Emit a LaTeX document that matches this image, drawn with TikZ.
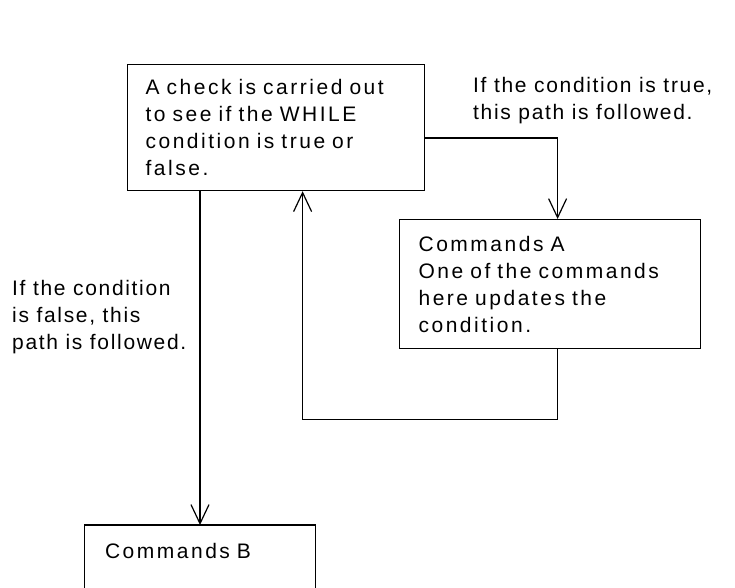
\documentclass[tikz,border=0pt]{standalone}
\usepackage{fontspec}
\setmainfont{Liberation Sans}[LetterSpace=12]
\usetikzlibrary{arrows.meta,calc}

\tikzset{
  flowbox/.style={draw, line width=1.2pt, rectangle, inner ysep=0pt,
    align=left, font=\fontsize{21}{27}\selectfont},
  note/.style={inner sep=0pt, align=left, anchor=west,
    font=\fontsize{21}{27}\selectfont\addfontfeature{LetterSpace=8}},
  flow/.style={line width=1.2pt,
    -{Straight Barb[length=19pt,width=18pt]}},
  plain/.style={line width=1.2pt}
}
% keep each printed line in one piece
\newcommand\oneline[1]{\mbox{#1}}

\begin{document}
\begin{tikzpicture}[x=1pt,y=1pt]
  \useasboundingbox (0,0) rectangle (735,-587);
  \clip (0,0) rectangle (735,-587);

  % condition test
  \node[flowbox, anchor=north west, minimum width=297pt, minimum height=126pt,
        inner xsep=18pt, text width=261pt] (check) at (127,-64)
    {\oneline{A check is carried out}\\\oneline{to see if the WHILE}\\
     \oneline{condition is true or}\\\oneline{false.}};

  % loop body
  \node[flowbox, anchor=north west, minimum width=301pt, minimum height=129pt,
        inner xsep=19pt, text width=263pt] (cmdA) at (399,-219)
    {\oneline{Commands A}\\\oneline{One of the commands}\\\oneline{here updates the}\\
     \oneline{condition.}};

  % statements after the loop (box runs off the bottom edge)
  \node[flowbox, draw=none, anchor=north, minimum width=230pt, minimum height=50pt,
        inner xsep=20pt, text width=190pt] (cmdB) at (200,-525)
    {\oneline{Commands B}};
  \draw[plain] ([yshift=-40pt]cmdB.south west) -- (cmdB.north west)
    -- (cmdB.north east) -- ([yshift=-40pt]cmdB.south east);

  % path labels
  \node[note] (truelbl) at (473,-101)
    {\oneline{If the condition is true,}\\\oneline{this path is followed.}};
  \node[note] (falselbl) at (12,-317)
    {\oneline{If the condition}\\\oneline{is false, this}\\\oneline{path is followed.}};

  % connectors
  \draw[flow] ([yshift=-74pt]check.north east) -| ([xshift=7.5pt]cmdA.north);
  \draw[flow] ([xshift=7.5pt]cmdA.south) -- ++(0,-70) -| ([xshift=26.5pt]check.south);
  \draw[flow] (cmdB.north |- check.south) -- (cmdB.north);
\end{tikzpicture}
\end{document}
